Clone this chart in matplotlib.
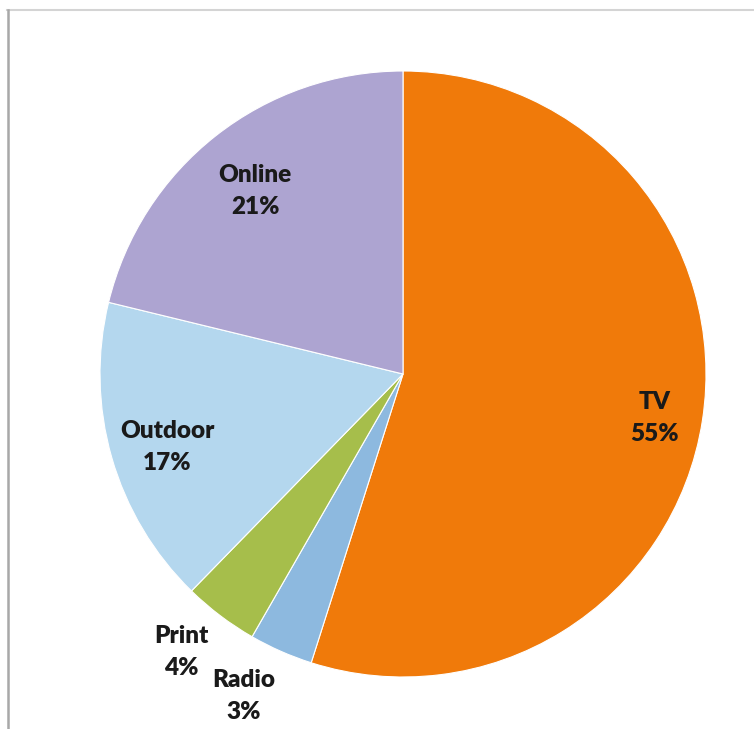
import matplotlib
matplotlib.use("Agg")
import matplotlib.pyplot as plt
from matplotlib.lines import Line2D
import numpy as np

categories = ["TV", "Radio", "Print", "Outdoor", "Online"]
values = [54.9, 3.4, 4.0, 16.5, 21.2]
pct_labels = ["55%", "3%", "4%", "17%", "21%"]
colors = ["#F07A0A", "#8DB9DF", "#A6BE4B", "#B4D7EE", "#ADA4D1"]
label_radius = [0.84, 1.17, 1.16, 0.81, 0.79]
label_angle_shift = [0, 3, 2, 0, 0]

W, H = 754, 729
cx, cy, R = 403, 374, 303
fig = plt.figure(figsize=(W / 100, H / 100), dpi=100)
ax = fig.add_axes([0, 0, 1, 1])

wedges, _ = ax.pie(values, colors=colors, startangle=90, counterclock=False,
                   radius=1.0, center=(0, 0), frame=True,
                   wedgeprops=dict(edgecolor="white", linewidth=0.8))
ax.set_xlim(-cx / R, (W - cx) / R)
ax.set_ylim(-(H - cy) / R, cy / R)
ax.set_aspect("auto")
ax.axis("off")

for w, cat, pl, r, sh in zip(wedges, categories, pct_labels, label_radius, label_angle_shift):
    mid = np.deg2rad((w.theta1 + w.theta2) / 2 - sh)
    x, y = r * np.cos(mid), r * np.sin(mid) - 0.017
    ax.text(x, y, f"{cat}\n{pl}", ha="center", va="center", fontsize=17.5,
            fontweight="heavy", family=["Lato", "DejaVu Sans"], color="#1a1a1a",
            linespacing=1.55)

fig.add_artist(Line2D([7 / W, 1], [1 - 10 / H, 1 - 10 / H], color="#d4d4d4", lw=1.5,
                      transform=fig.transFigure))
fig.add_artist(Line2D([7.5 / W, 7.5 / W], [0, 1 - 10 / H], color="#a8a8a8", lw=1.8,
                      transform=fig.transFigure))

fig.savefig("out.png", dpi=100)
